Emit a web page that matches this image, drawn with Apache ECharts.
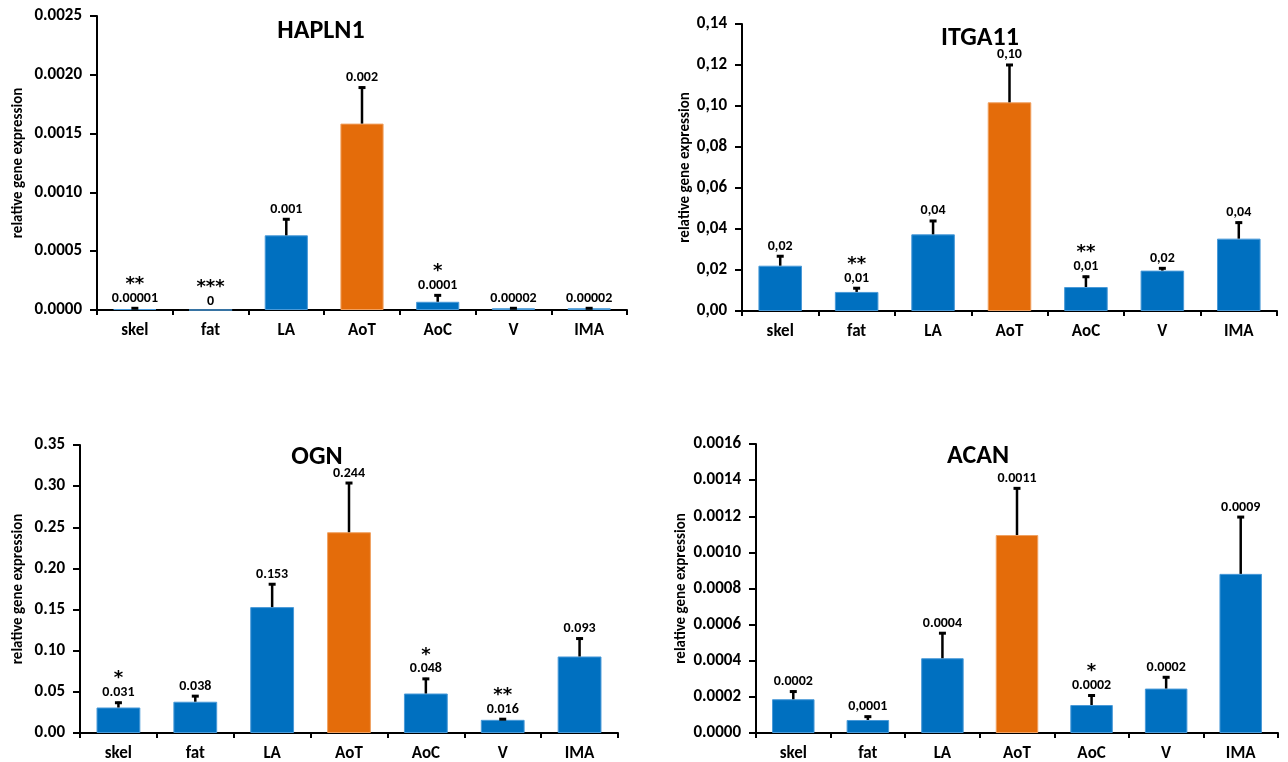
<!DOCTYPE html>
<html>
<head>
<meta charset="utf-8">
<script src="https://cdn.jsdelivr.net/npm/echarts@6/dist/echarts.min.js"></script>
<style>
html,body{margin:0;padding:0;background:#fff;}
#c{width:1288px;height:762px;}
</style>
</head>
<body>
<div id="c"></div>
<script>
var categories = ['skel', 'fat', 'LA', 'AoT', 'AoC', 'V', 'IMA'];

var hapln1Mean = [0.000008, 0, 0.000635, 0.001585, 0.00007, 0.000015, 0.000015];
var hapln1Err = [0.000015, 0, 0.000145, 0.000315, 0.000063, 0.000008, 0.000008];
var hapln1Labels = ['0.00001', '0', '0.001', '0.002', '0.0001', '0.00002', '0.00002'];
var hapln1Stars = ['**', '***', '', '', '*', '', ''];

var itga11Mean = [0.0221, 0.0093, 0.0374, 0.1018, 0.0117, 0.0197, 0.0353];
var itga11Err = [0.0051, 0.0023, 0.0070, 0.0187, 0.0055, 0.0016, 0.0083];
var itga11Labels = ['0,02', '0,01', '0,04', '0,10', '0,01', '0,02', '0,04'];
var itga11Stars = ['', '**', '', '', '**', '', ''];

var ognMean = [0.031, 0.038, 0.153, 0.244, 0.048, 0.016, 0.093];
var ognErr = [0.007, 0.008, 0.029, 0.061, 0.019, 0.002, 0.023];
var ognLabels = ['0.031', '0.038', '0.153', '0.244', '0.048', '0.016', '0.093'];
var ognStars = ['*', '', '', '', '*', '**', ''];

var acanMean = [0.000187, 0.000072, 0.000414, 0.001096, 0.000155, 0.000246, 0.000881];
var acanErr = [0.000048, 0.000024, 0.000144, 0.000264, 0.000058, 0.000068, 0.00032];
var acanLabels = ['0.0002', '0,0001', '0.0004', '0.0011', '0.0002', '0.0002', '0.0009'];
var acanStars = ['', '', '', '', '*', '', ''];

var titles = ['HAPLN1', 'ITGA11', 'OGN', 'ACAN'];
var yMax = [0.0025, 0.14, 0.35, 0.0016];
var yStep = [0.0005, 0.02, 0.05, 0.0002];
var yDecimals = [4, 2, 2, 4];
var yDecimalSep = ['.', ',', '.', '.'];
var highlightCategory = 'AoT';

var FONT = "Carlito, Lato, 'Liberation Sans', sans-serif";
var STARFONT = "'DejaVu Sans', sans-serif";
var BLUE = '#0070C0';
var ORANGE = '#E46C0A';

var panels = [
  {mean: hapln1Mean, err: hapln1Err, labels: hapln1Labels, stars: hapln1Stars},
  {mean: itga11Mean, err: itga11Err, labels: itga11Labels, stars: itga11Stars},
  {mean: ognMean, err: ognErr, labels: ognLabels, stars: ognStars},
  {mean: acanMean, err: acanErr, labels: acanLabels, stars: acanStars}
];

var grids = [
  {left: 97, top: 16, width: 530, height: 294},
  {left: 742, top: 24, width: 535, height: 287},
  {left: 80, top: 445, width: 538, height: 288},
  {left: 756, top: 444, width: 522, height: 289}
];
var nameGaps = [71, 49, 54, 67];
var titlePos = [[316, 13], [975, 20], [312, 439], [973, 438]];

function makeRender(p) {
  return function (params, api) {
    var i = api.value(0);
    var m = api.value(1);
    var e = api.value(2);
    var base = api.coord([i, m]);
    var top = api.coord([i, m + e]);
    var x = base[0];
    var children = [];
    if (e > 0) {
      children.push({type: 'line', shape: {x1: x, y1: base[1], x2: x, y2: top[1]},
        style: {stroke: '#000', lineWidth: 2.5}});
      children.push({type: 'line', shape: {x1: x - 3.5, y1: top[1] + 1, x2: x + 3.5, y2: top[1] + 1},
        style: {stroke: '#000', lineWidth: 3}});
    }
    var lbl = p.labels[params.dataIndex];
    children.push({type: 'text', style: {text: lbl, x: x, y: top[1] - 2, align: 'center',
      verticalAlign: 'bottom', font: 'bold 14px ' + FONT, fill: '#000'}});
    var st = p.stars[params.dataIndex];
    if (st) {
      children.push({type: 'text', style: {text: st, x: x, y: top[1] - 23, align: 'center',
        verticalAlign: 'middle', font: 'bold 18px ' + STARFONT, fill: '#000'}});
    }
    return {type: 'group', children: children};
  };
}

var option = {
  backgroundColor: '#fff',
  animation: false,
  title: titles.map(function (t, k) {
    return {text: t, left: titlePos[k][0], top: titlePos[k][1], textAlign: 'center',
      textStyle: {fontFamily: FONT, fontWeight: 'bold', fontSize: 26, color: '#000'}};
  }),
  grid: grids,
  xAxis: grids.map(function (g, k) {
    return {
      type: 'category', gridIndex: k, data: categories,
      axisLine: {lineStyle: {color: '#000', width: 2}},
      axisTick: {show: true, length: 5, interval: 0, lineStyle: {color: '#000', width: 2}},
      axisLabel: {fontFamily: FONT, fontWeight: 'bold', fontSize: 17, color: '#000', margin: 12, interval: 0},
      splitLine: {show: false}
    };
  }),
  yAxis: grids.map(function (g, k) {
    return {
      type: 'value', gridIndex: k, min: 0, max: yMax[k], interval: yStep[k],
      name: 'relative gene expression', nameLocation: 'middle', nameGap: nameGaps[k], nameRotate: 90,
      nameTextStyle: {fontFamily: FONT, fontWeight: 'bold', fontSize: 15, color: '#000'},
      axisLine: {show: true, lineStyle: {color: '#000', width: 2}},
      axisTick: {show: true, length: 7, lineStyle: {color: '#000', width: 2}},
      axisLabel: {fontFamily: FONT, fontWeight: 'bold', fontSize: 17, color: '#000', margin: 15,
        formatter: function (v) { return v.toFixed(yDecimals[k]).replace('.', yDecimalSep[k]); }},
      splitLine: {show: false}
    };
  }),
  series: []
};

panels.forEach(function (p, k) {
  option.series.push({
    type: 'bar', xAxisIndex: k, yAxisIndex: k, barWidth: '57%',
    data: p.mean.map(function (v, i) {
      var hl = categories[i] === highlightCategory;
      return {value: v, itemStyle: {color: hl ? ORANGE : BLUE, borderColor: hl ? '#F0A060' : '#4A9AD8', borderWidth: 1}};
    }),
    z: 2
  });
  option.series.push({
    type: 'custom', xAxisIndex: k, yAxisIndex: k, z: 5, clip: false,
    renderItem: makeRender(p),
    encode: {x: 0, y: 1},
    data: p.mean.map(function (v, i) { return [i, v, p.err[i]]; })
  });
});

var chart = echarts.init(document.getElementById('c'), null, {renderer: 'canvas'});
chart.setOption(option);
</script>
</body>
</html>
